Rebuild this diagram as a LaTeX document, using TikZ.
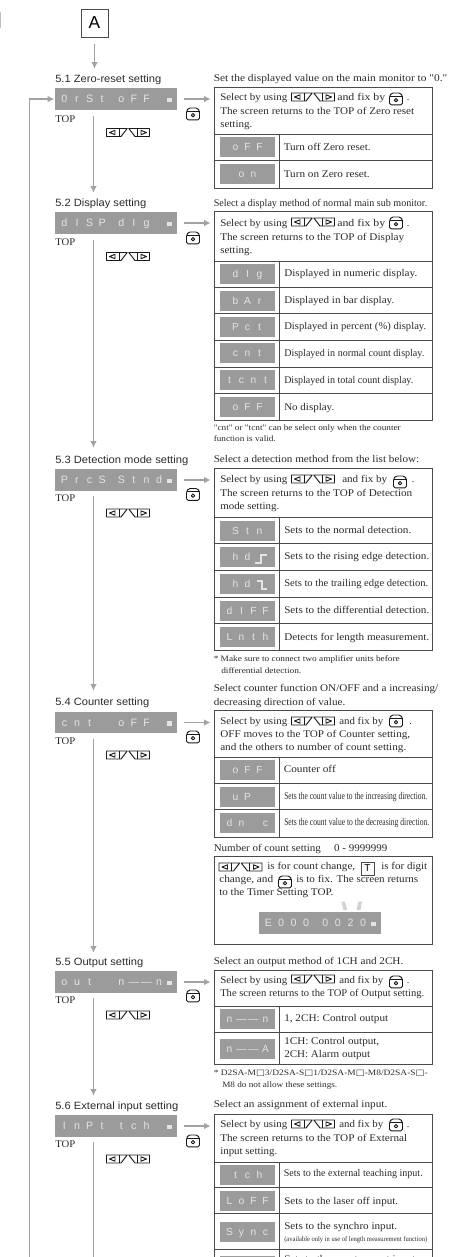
\documentclass[tikz,border=0pt]{standalone}
\usepackage{fontspec}
\usepackage{graphicx}
\setmainfont[Ligatures=TeXOff]{Liberation Serif}
\newfontfamily\arialf{Liberation Sans}
\newfontfamily\dvsf{DejaVu Sans}
\usetikzlibrary{arrows.meta}
\definecolor{flowc}{HTML}{A2A2A2}
\definecolor{dispc}{HTML}{9B9B9B}
\definecolor{segc}{HTML}{E4E4E4}
\definecolor{ink}{HTML}{2A2A2A}
\definecolor{boxc}{HTML}{4A4A4A}
\newdimen\pxu \pxu=0.75pt
\newdimen\cellw \cellw=12.6\pxu
\newcommand\fitw[2]{\resizebox{#1\pxu}{\height}{#2}}
\def\dloop#1{\ifx#1\relax\else\makebox[\cellw]{#1}\expandafter\dloop\fi}
\newcommand\dcells[1]{\dloop#1\relax}
\newcommand\rcells[1]{\setlength\cellw{12\pxu}\dloop#1\relax}
\newcommand\dsq{\makebox[9\pxu]{\raisebox{0.6pt}{\rule{5\pxu}{4.5\pxu}}}}
\newcommand\mcells[2]{\dcells{#1}\hspace*{6.5\pxu}\dcells{#2}\dsq}
\newcommand\hollow{{\dvsf\char"25A1}}
\tikzset{
  flow/.style={draw=flowc,line width=1.15pt,-{Latex[length=5pt,width=5pt]}},
  tline/.style={draw=boxc,line width=0.75pt},
  outbox/.style={draw=boxc,line width=0.85pt,inner sep=0pt,anchor=north west},
  mainD/.style={fill=dispc,text=segc,inner sep=0pt,anchor=north west,minimum width=122*0.75pt,minimum height=21.5*0.75pt,
    font=\fontsize{8}{9}\selectfont\arialf,text height=5.8pt,text depth=0pt},
  rowD/.style={fill=dispc,text=segc,inner sep=0pt,minimum width=55*0.75pt,minimum height=20*0.75pt,
    font=\fontsize{7.7}{9}\selectfont\arialf,text height=5.6pt,text depth=0pt},
  boxT/.style={anchor=west,inner sep=0pt,text=ink,font=\fontsize{7.7}{9}\selectfont,text height=5.5pt,text depth=1.6pt},
  noteT/.style={boxT,font=\fontsize{6.2}{8}\selectfont},
  smallT/.style={boxT,font=\fontsize{5.2}{7}\selectfont},
  secT/.style={anchor=west,inner sep=0pt,text=ink,font=\fontsize{7.9}{9}\selectfont\arialf,minimum height=12*0.75pt},
  arrowkeys/.pic={
    \begin{scope}[draw=black!90,line width=0.7pt,line join=round]
      \draw (-21.5,-4) -- (-0.8,-4) -- (-7,4) -- (-21.5,4) -- cycle;
      \draw (21.5,-4) -- (0.8,-4) -- (7,4) -- (21.5,4) -- cycle;
      \draw (-9,-4) -- (-9,4) (9,-4) -- (9,4);
      \draw (-18.5,0) -- (-13,-2.2) -- (-13,2.2) -- cycle;
      \draw (18.5,0) -- (13,-2.2) -- (13,2.2) -- cycle;
    \end{scope}
  },
  fixkey/.pic={
    \begin{scope}[draw=black!90,line width=0.7pt,line join=round]
      \draw[rounded corners=1.2pt] (-6.5,5.8) -- (-6.5,-3) -- (-4.5,-6) -- (4.5,-6) -- (6.5,-3) -- (6.5,5.8) -- cycle;
      \draw (-6.5,-3) -- (6.5,-3);
      \draw (0,1.2) circle[radius=1.7];
    \end{scope}
  },
}
% name, x, y, width, text
\newcommand\ptext[6][boxT]{\node[#1] (#2) at (#3,#4) {\fitw{#5}{#6}};}
% prefix, y, x and, w and, x fix, x dot, keys y, fix y
\newcommand\selline[8]{%
  \ptext{#1sel}{220}{#2}{67}{Select by using}
  \pic (#1keys) at (313,#7) {arrowkeys};
  \ptext{#1and}{#3}{#2}{#4}{and fix by}
  \pic (#1fix) at (#5,#8) {fixkey};
  \node[boxT] (#1dot) at (#6,#2) {.};
}
% box, y
\newcommand\rowline[2]{\draw[tline] (#1.west |- 0,#2) -- (#1.east |- 0,#2);}
\begin{document}
\begin{tikzpicture}[x=0.75pt,y=-0.75pt]
\useasboundingbox (0,0) rectangle (450,1257);
\clip (0,0) rectangle (450,1257);
\fill[flowc!70] (0,12) rectangle (1.2,28);
% A
\node[draw=boxc,line width=0.7pt,inner sep=0pt,minimum width=27*0.75pt,minimum height=28*0.75pt,font=\fontsize{13}{14}\selectfont\arialf] (A) at (94.5,23) {A};

%%% Section labels
\ptext[secT]{l1}{55}{80}{106}{5.1 Zero-reset setting}
\ptext[secT]{l2}{55}{204}{91}{5.2 Display setting}
\ptext[secT]{l3}{55}{461}{133}{5.3 Detection mode setting}
\ptext[secT]{l4}{55}{703}{94}{5.4 Counter setting}
\ptext[secT]{l5}{55}{963}{88}{5.5 Output setting}
\ptext[secT]{l6}{55}{1107}{123}{5.6 External input setting}
%%% Main displays
\node[mainD] (d1) at (55,88) {\mcells{0rSt}{oFF~}};
\node[mainD] (d2) at (55,212) {\mcells{dISP}{dIg~}};
\node[mainD] (d3) at (55,469) {\mcells{PrcS}{Stnd}};
\node[mainD] (d4) at (55,711.5) {\mcells{cnt~}{oFF~}};
\node[mainD] (d5) at (55,971) {\mcells{out~}{n——n}};
\node[mainD] (d6) at (55,1115) {\mcells{InPt}{tch~}};
%%% TOP labels, key glyphs
\ptext{top1}{55}{120}{20}{TOP} \ptext{top2}{55}{243}{20}{TOP} \ptext{top3}{55}{499}{20}{TOP}
\ptext{top4}{55}{742}{20}{TOP} \ptext{top5}{55}{1001}{20}{TOP} \ptext{top6}{55}{1145}{20}{TOP}
\pic (k1) at (128,132.5) {arrowkeys}; \pic (k2) at (128,256.5) {arrowkeys}; \pic (k3) at (128,513) {arrowkeys};
\pic (k4) at (128,755) {arrowkeys}; \pic (k5) at (128,1015) {arrowkeys}; \pic (k6) at (128,1159) {arrowkeys};
\pic (f1) at (193,114) {fixkey}; \pic (f2) at (193,238) {fixkey}; \pic (f3) at (193,494.5) {fixkey};
\pic (f4) at (193,737) {fixkey}; \pic (f5) at (193,996) {fixkey}; \pic (f6) at (193,1141) {fixkey};

%%% Headings
\ptext{h1}{213.5}{79}{233.5}{Set the displayed value on the main monitor to "0."}
\ptext{h2}{213.5}{204}{213.5}{Select a display method of normal main sub monitor.}
\ptext{h3}{213.5}{460}{205.5}{Select a detection method from the list below:}
\ptext{h4a}{213.5}{689}{224.5}{Select counter function ON/OFF and a increasing/}
\ptext{h4b}{213.5}{703}{131.5}{decreasing direction of value.}
\ptext{h4c}{213.5}{849}{173.5}{Number of count setting\hspace{1.2em}0 - 9999999}
\ptext{h5}{213.5}{962}{189.5}{Select an output method of 1CH and 2CH.}
\ptext{h6}{213.5}{1105}{173.5}{Select an assignment of external input.}

%%% Boxes
\node[outbox,minimum width=218*0.75pt,minimum height=101*0.75pt] (b1) at (214,87) {};
\node[outbox,minimum width=218*0.75pt,minimum height=209*0.75pt] (b2) at (214,211) {};
\node[outbox,minimum width=218*0.75pt,minimum height=182*0.75pt] (b3) at (214,468) {};
\node[outbox,minimum width=218*0.75pt,minimum height=127*0.75pt] (b4) at (214,710) {};
\node[outbox,minimum width=218*0.75pt,minimum height=88*0.75pt] (b4c) at (213.5,856) {};
\node[outbox,minimum width=218*0.75pt,minimum height=94*0.75pt] (b5) at (214,970) {};
\node[outbox,minimum width=218*0.75pt,minimum height=200*0.75pt] (b6) at (214,1114) {};
%%% Rules
\rowline{b1}{134}\rowline{b1}{160}
\draw[tline] (279,134) -- (279,0 |- b1.south);
\rowline{b2}{261}\rowline{b2}{287}\rowline{b2}{313}\rowline{b2}{340}\rowline{b2}{367}\rowline{b2}{393}
\draw[tline] (279,261) -- (279,0 |- b2.south);
\rowline{b3}{517}\rowline{b3}{543}\rowline{b3}{570}\rowline{b3}{597}\rowline{b3}{623}
\draw[tline] (279,517) -- (279,0 |- b3.south);
\rowline{b4}{757}\rowline{b4}{783}\rowline{b4}{809}
\draw[tline] (279,757) -- (279,0 |- b4.south);
\rowline{b5}{1006}\rowline{b5}{1032}
\draw[tline] (279,1006) -- (279,0 |- b5.south);
\rowline{b6}{1162}\rowline{b6}{1187}\rowline{b6}{1213}\rowline{b6}{1249}
\draw[tline] (279,1162) -- (279,0 |- b6.south);

%%% Box 1
\selline{a}{98}{337}{48}{396}{406.5}{97}{99}
\ptext{a2}{220}{112}{194}{The screen returns to the TOP of Zero reset}
\ptext{a3}{220}{124.5}{32}{setting.}
\node[rowD] (r11) at (247.5,147) {\rcells{oFF}};
\node[rowD] (r12) at (247.5,174) {\rcells{on}};
\ptext{t11}{283.5}{148}{87}{Turn off Zero reset.}
\ptext{t12}{283.5}{175}{86}{Turn on Zero reset.}
%%% Box 2
\selline{c}{224}{337}{48}{396}{406.5}{222}{223}
\ptext{c2}{220}{238}{184}{The screen returns to the TOP of Display}
\ptext{c3}{220}{251}{32}{setting.}
\node[rowD] (r21) at (247.5,274) {\rcells{dIg}};
\node[rowD] (r22) at (247.5,300.5) {\rcells{bAr}};
\node[rowD] (r23) at (247.5,327) {\rcells{Pct}};
\node[rowD] (r24) at (247.5,353) {\rcells{cnt}};
\node[rowD] (r25) at (247.5,380) {\rcells{tcnt}};
\node[rowD] (r26) at (247.5,407) {\rcells{oFF}};
\ptext{t21}{284}{274}{133}{Displayed in numeric display.}
\ptext{t22}{284}{301}{110}{Displayed in bar display.}
\ptext{t23}{284}{327}{142}{Displayed in percent (\%) display.}
\ptext{t24}{284}{354}{140}{Displayed in normal count display.}
\ptext{t25}{284}{381}{129}{Displayed in total count display.}
\ptext{t26}{284}{408}{50}{No display.}
\ptext[noteT]{n21}{213.5}{428}{187}{"cnt" or "tcnt" can be select only when the counter}
\ptext[noteT]{n22}{213.5}{439}{62}{function is valid.}
%%% Box 3
\selline{e}{480}{342}{45}{400}{411.5}{479}{482}
\ptext{e2}{220}{494}{192}{The screen returns to the TOP of Detection}
\ptext{e3}{220}{507}{59}{mode setting.}
\node[rowD] (r31) at (247.5,531) {\rcells{Stn}};
\node[rowD] (r32) at (247.5,557) {\rcells{hd~}};
\node[rowD] (r33) at (247.5,584) {\rcells{hd~}};
\node[rowD] (r34) at (247.5,610.5) {\rcells{dIFF}};
\node[rowD] (r35) at (247.5,637) {\rcells{Lnth}};
\draw[draw=segc,line width=1pt] (255,563) -- (261,563) -- (261,555) -- (267,555);
\draw[draw=segc,line width=1pt] (257,581) -- (262,581) -- (262,589) -- (267,589);
\ptext{t31}{284}{531}{127}{Sets to the normal detection.}
\ptext{t32}{284}{557}{145}{Sets to the rising edge detection.}
\ptext{t33}{284}{584}{144}{Sets to the trailing edge detection.}
\ptext{t34}{284}{611}{145}{Sets to the differential detection.}
\ptext{t35}{284}{638}{145}{Detects for length measurement.}
\ptext[noteT]{n31}{213.5}{658.5}{186}{* Make sure to connect two amplifier units before}
\ptext[noteT]{n32}{221}{671}{80}{differential detection.}
%%% Box 4
\selline{g}{722}{339}{44}{396}{409}{721}{721}
\ptext{g2}{220}{735}{190}{OFF moves to the TOP of Counter setting,}
\ptext{g3}{220}{747.5}{186}{and the others to number of count setting.}
\node[rowD] (r41) at (247.5,770) {\rcells{oFF}};
\node[rowD] (r42) at (247.5,796.5) {\rcells{uP~}};
\node[rowD] (r43) at (247.5,823) {\rcells{dn~c}};
\ptext{t41}{283.5}{770}{52}{Counter off}
\ptext{t42}{284}{797}{143}{Sets the count value to the increasing direction.}
\ptext{t43}{284}{823}{145}{Sets the count value to the decreasing direction.}
%%% Count box
\pic (ckeys) at (240.5,867) {arrowkeys};
\ptext{c1a}{267}{867}{88}{is for count change,}
\node[draw=boxc,line width=0.6pt,inner sep=0pt,minimum width=13*0.75pt,minimum height=13*0.75pt,font=\fontsize{7.5}{9}\selectfont\arialf] (tkey) at (367.5,868.5) {T};
\ptext{c1b}{381}{867}{46}{is for digit}
\ptext{c2a}{219}{880}{54}{change, and}
\pic (cfix) at (285,882) {fixkey};
\ptext{c2b}{296}{880}{122}{is to fix. The screen returns}
\ptext{c3a}{219}{893}{114}{to the Timer Setting TOP.}
\fill[segc!75!dispc] (341.5,901.5) -- (345,901.5) -- (347,910) -- (343.5,910) -- cycle;
\fill[segc!75!dispc] (358.5,901.5) -- (362,901.5) -- (360.5,910) -- (356.5,910) -- cycle;
\node[mainD] (dc) at (259,912) {\mcells{E000}{0020}};
%%% Box 5
\selline{m}{981}{339}{44}{396}{406.5}{979}{982}
\ptext{m2}{220}{994}{204}{The screen returns to the TOP of Output setting.}
\node[rowD] (r51) at (247.5,1019) {\rcells{n——n}};
\node[rowD] (r52) at (247.5,1048.5) {\rcells{n——A}};
\ptext{t51}{284}{1019}{104}{1, 2CH: Control output}
\ptext{t52}{284}{1042}{95}{1CH: Control output,}
\ptext{t53}{284}{1055}{86}{2CH: Alarm output}
\ptext[noteT]{n51}{213.5}{1073}{214}{* D2SA-M\hollow 3/D2SA-S\hollow 1/D2SA-M\hollow -M8/D2SA-S\hollow -}
\ptext[noteT]{n52}{222}{1085}{115}{M8 do not allow these settings.}
%%% Box 6
\selline{p}{1125}{339}{44}{396}{406.5}{1124}{1125}
\ptext{p2}{220}{1139}{187}{The screen returns to the TOP of External}
\ptext{p3}{220}{1151.5}{57}{input setting.}
\node[rowD] (r61) at (247.5,1174.5) {\rcells{tch}};
\node[rowD] (r62) at (247.5,1201) {\rcells{LoFF}};
\node[rowD] (r63) at (247.5,1232) {\rcells{Sync}};
\node[fill=dispc,inner sep=0pt,minimum width=55*0.75pt,minimum height=20*0.75pt] (r64) at (247.5,1266) {};
\ptext{t61}{283.5}{1174}{139}{Sets to the external teaching input.}
\ptext{t62}{284}{1202}{114}{Sets to the laser off input.}
\ptext{t63}{284}{1227}{113}{Sets to the synchro input.}
\ptext[smallT]{t64}{284}{1238.5}{143}{(available only in use of length measurement function)}
\ptext{t65}{284}{1259.5}{131}{Sets to the counter reset input}

%%% Connectors
\draw[flow,shorten <=5pt,shorten >=3.75pt] (A.south) -- (A.south |- l1.north);
\coordinate (v1) at (93.5,116); \coordinate (v2) at (93.5,240); \coordinate (v3) at (93.5,496);
\coordinate (v4) at (93.5,739); \coordinate (v5) at (93.5,998); \coordinate (v6) at (93.5,1142);
\coordinate (vend) at (93.5,1262); \coordinate (fb) at (29.5,1262);
\draw[flow,shorten >=3.75pt] (v1) -- (v1 |- l2.north);
\draw[flow,shorten >=5.25pt] (v2) -- (v2 |- l3.north);
\draw[flow,shorten >=4.5pt] (v3) -- (v3 |- l4.north);
\draw[flow,shorten >=3pt] (v4) -- (v4 |- l5.north);
\draw[flow,shorten >=3.75pt] (v5) -- (v5 |- l6.north);
\draw[draw=flowc,line width=1.15pt] (v6) -- (vend);
\draw[flow,shorten >=0.5pt] (fb) |- (d1.west);
\foreach \d/\b in {d1/b1,d2/b2,d3/b3,d4/b4,d5/b5,d6/b6}
  \draw[flow,shorten <=4.5pt,shorten >=2.5pt] (\d.east) -- (\d.east -| \b.west);
\end{tikzpicture}
\end{document}
